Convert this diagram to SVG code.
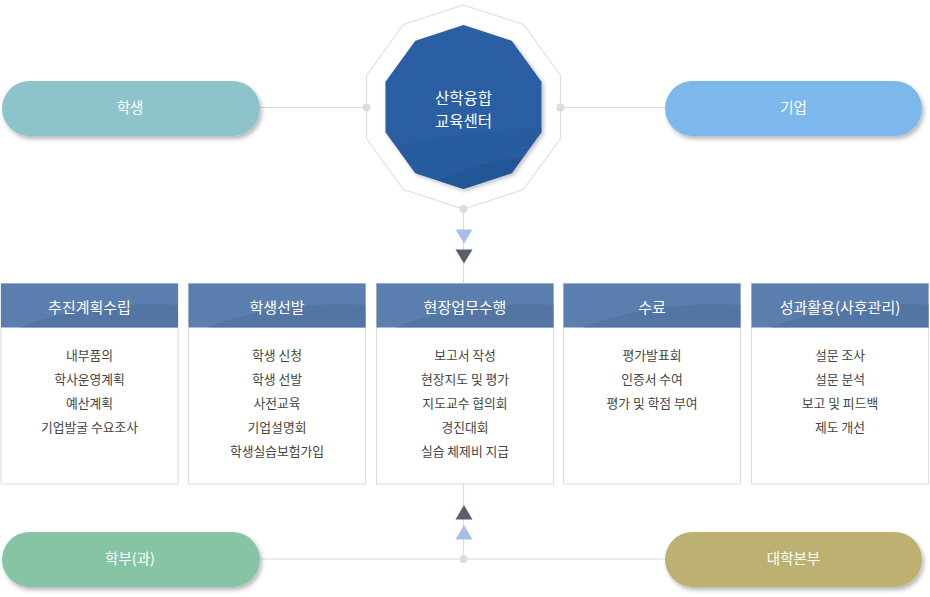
<svg xmlns="http://www.w3.org/2000/svg" width="930" height="597" viewBox="0 0 930 597">
<defs>
<style>
.pill-t{font-family:"Noto Sans CJK KR","Noto Sans",sans-serif;font-size:14.5px;fill:#fff;text-anchor:middle}
.hd-t{font-family:"Noto Sans CJK KR","Noto Sans",sans-serif;font-size:15px;fill:#fff;text-anchor:middle}
.bd-t{font-family:"Noto Sans CJK KR","Noto Sans",sans-serif;font-size:12.8px;fill:#444;text-anchor:middle}
.ctr-t{font-family:"Noto Sans CJK KR","Noto Sans",sans-serif;font-size:15.5px;fill:#fff;text-anchor:middle}
.box{fill:#fff;stroke:#dcdcdc;stroke-width:1}
.hdr{fill:#5a7ead}
.hdr-sh{fill:#4d709c;opacity:0.6}
.ln{stroke:#dcdcdc;stroke-width:1.2;fill:none}
.dot{fill:#dcdcdc}
</style>
<filter id="sh" x="-10%" y="-30%" width="125%" height="170%">
<feDropShadow dx="2" dy="3" stdDeviation="2" flood-color="#000" flood-opacity="0.28"/>
</filter>
<filter id="sh2" x="-10%" y="-10%" width="125%" height="125%">
<feDropShadow dx="2" dy="2" stdDeviation="2" flood-color="#000" flood-opacity="0.25"/>
</filter>
<pattern id="dots" width="4" height="4" patternUnits="userSpaceOnUse">
<rect x="1" y="1" width="1.2" height="1.2" fill="#1d4b85" opacity="0.7"/>
</pattern>
<clipPath id="dec">
<polygon points="463.5,25 511.7,40.7 541.5,81.7 541.5,132.3 511.7,173.3 463.5,189 415.3,173.3 385.5,132.3 385.5,81.7 415.3,40.7"/>
</clipPath>
</defs>

<g id="center">
<polygon points="463.5,5 523.5,24.5 560.5,75.5 560.5,138.5 523.5,189.5 463.5,209 403.5,189.5 366.5,138.5 366.5,75.5 403.5,24.5" fill="#fff" stroke="#e0e0e0" stroke-width="1.2"/>
<polygon points="463.5,25 511.7,40.7 541.5,81.7 541.5,132.3 511.7,173.3 463.5,189 415.3,173.3 385.5,132.3 385.5,81.7 415.3,40.7" fill="#2a60a3" filter="url(#sh2)"/>
<g clip-path="url(#dec)">
<rect x="385" y="25" width="157" height="165" fill="url(#dots)" opacity="0.45"/>
<path d="M385,150 Q460,130 545,128 L545,190 L385,190 Z" fill="#1f4f8e" opacity="0.25"/>
<path d="M420,190 Q470,160 545,155 L545,190 Z" fill="#1d4a86" opacity="0.35"/>
</g>
<text class="ctr-t" x="463.5" y="104">산학융합</text>
<text class="ctr-t" x="463.5" y="127">교육센터</text>
</g>

<g id="connectors">
<line class="ln" x1="260" y1="107.5" x2="366.5" y2="107.5"/>
<line class="ln" x1="560.5" y1="107.5" x2="665" y2="107.5"/>
<line class="ln" x1="463.5" y1="209" x2="463.5" y2="284"/>
<line class="ln" x1="463.5" y1="484" x2="463.5" y2="559"/>
<line class="ln" x1="260" y1="559" x2="665" y2="559"/>
<circle class="dot" cx="366.5" cy="107.5" r="4"/>
<circle class="dot" cx="560.5" cy="107.5" r="4"/>
<circle class="dot" cx="463.5" cy="209" r="4"/>
<circle class="dot" cx="463.5" cy="559" r="4"/>
<polygon points="455.5,229.5 472.5,229.5 464,243.5" fill="#a7bfe3"/>
<polygon points="455.5,249.5 472.5,249.5 464,263.5" fill="#565f6a"/>
<polygon points="455.5,519.5 472.5,519.5 464,505" fill="#565f6a"/>
<polygon points="455.5,539.5 472.5,539.5 464,525" fill="#a7bfe3"/>
</g>

<g id="student">
<rect x="2" y="81" width="258" height="55" rx="27.5" fill="#8dc4cc" filter="url(#sh)"/>
<text class="pill-t" x="130" y="113">학생</text>
</g>
<g id="company">
<rect x="665" y="81" width="257" height="55" rx="27.5" fill="#7bb8eb" filter="url(#sh)"/>
<text class="pill-t" x="793.5" y="113">기업</text>
</g>
<g id="department">
<rect x="2" y="532" width="258" height="55" rx="27.5" fill="#86c4a5" filter="url(#sh)"/>
<text class="pill-t" x="130" y="564">학부(과)</text>
</g>
<g id="headquarters">
<rect x="665" y="532" width="257" height="55" rx="27.5" fill="#bcb171" filter="url(#sh)"/>
<text class="pill-t" x="793.5" y="564">대학본부</text>
</g>

<g id="col1">
<rect class="box" x="1" y="283.5" width="177" height="200.5"/>
<rect class="hdr" x="1" y="283.5" width="177" height="44"/>
<path class="hdr-sh" d="M20,327.5 Q90,300 178,305 L178,327.5 Z"/>
<text class="hd-t" x="89.5" y="313">추진계획수립</text>
<text class="bd-t" x="89.5" y="360">내부품의</text>
<text class="bd-t" x="89.5" y="384">학사운영계획</text>
<text class="bd-t" x="89.5" y="408">예산계획</text>
<text class="bd-t" x="89.5" y="432">기업발굴 수요조사</text>
</g>
<g id="col2">
<rect class="box" x="188.5" y="283.5" width="177" height="200.5"/>
<rect class="hdr" x="188.5" y="283.5" width="177" height="44"/>
<path class="hdr-sh" d="M207.5,327.5 Q277.5,300 365.5,305 L365.5,327.5 Z"/>
<text class="hd-t" x="277" y="313">학생선발</text>
<text class="bd-t" x="277" y="360">학생 신청</text>
<text class="bd-t" x="277" y="384">학생 선발</text>
<text class="bd-t" x="277" y="408">사전교육</text>
<text class="bd-t" x="277" y="432">기업설명회</text>
<text class="bd-t" x="277" y="456">학생실습보험가입</text>
</g>
<g id="col3">
<rect class="box" x="376.5" y="283.5" width="177" height="200.5"/>
<rect class="hdr" x="376.5" y="283.5" width="177" height="44"/>
<path class="hdr-sh" d="M395.5,327.5 Q465.5,300 553.5,305 L553.5,327.5 Z"/>
<text class="hd-t" x="465" y="313">현장업무수행</text>
<text class="bd-t" x="465" y="360">보고서 작성</text>
<text class="bd-t" x="465" y="384">현장지도 및 평가</text>
<text class="bd-t" x="465" y="408">지도교수 협의회</text>
<text class="bd-t" x="465" y="432">경진대회</text>
<text class="bd-t" x="465" y="456">실습 체제비 지급</text>
</g>
<g id="col4">
<rect class="box" x="563.5" y="283.5" width="177" height="200.5"/>
<rect class="hdr" x="563.5" y="283.5" width="177" height="44"/>
<path class="hdr-sh" d="M582.5,327.5 Q652.5,300 740.5,305 L740.5,327.5 Z"/>
<text class="hd-t" x="652" y="313">수료</text>
<text class="bd-t" x="652" y="360">평가발표회</text>
<text class="bd-t" x="652" y="384">인증서 수여</text>
<text class="bd-t" x="652" y="408">평가 및 학점 부여</text>
</g>
<g id="col5">
<rect class="box" x="751.5" y="283.5" width="177" height="200.5"/>
<rect class="hdr" x="751.5" y="283.5" width="177" height="44"/>
<path class="hdr-sh" d="M770.5,327.5 Q840.5,300 928.5,305 L928.5,327.5 Z"/>
<text class="hd-t" x="840" y="313">성과활용(사후관리)</text>
<text class="bd-t" x="840" y="360">설문 조사</text>
<text class="bd-t" x="840" y="384">설문 분석</text>
<text class="bd-t" x="840" y="408">보고 및 피드백</text>
<text class="bd-t" x="840" y="432">제도 개선</text>
</g>
</svg>
